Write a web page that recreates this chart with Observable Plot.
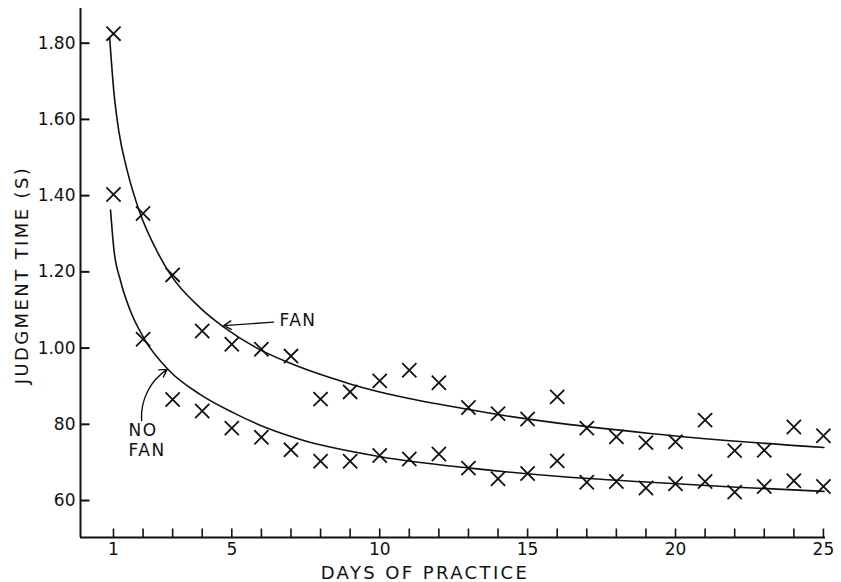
<!DOCTYPE html>
<html>
<head>
<meta charset="utf-8">
<script src="https://cdn.jsdelivr.net/npm/d3@7"></script>
<script src="https://cdn.jsdelivr.net/npm/@observablehq/plot@0.6"></script>
<style>
  body { margin: 0; background: #fff; }
  svg text { font-family: "DejaVu Sans", sans-serif; }
</style>
</head>
<body>
<div id="chart"></div>
<script>
// ---- data ----
const days = [1, 2, 3, 4, 5, 6, 7, 8, 9, 10, 11, 12, 13, 14, 15, 16, 17, 18, 19, 20, 21, 22, 23, 24, 25];
const fanTimes = [1.825, 1.353, 1.192, 1.045, 1.010, 0.997, 0.979, 0.866, 0.885, 0.914, 0.942, 0.909, 0.844, 0.828, 0.814, 0.872, 0.790, 0.767, 0.752, 0.754, 0.811, 0.731, 0.732, 0.793, 0.770];
const noFanTimes = [1.403, 1.023, 0.865, 0.835, 0.790, 0.766, 0.733, 0.703, 0.703, 0.718, 0.709, 0.722, 0.685, 0.657, 0.671, 0.704, 0.648, 0.650, 0.633, 0.644, 0.650, 0.622, 0.637, 0.652, 0.637];

// fitted curves as drawn in the reference
const fanCurveDays = [0.87, 1.01, 1.18, 1.46, 1.89, 2.42, 2.95, 3.94, 4.73, 5.85, 6.98, 9.0, 13.06, 19.14, 25.02];
const fanCurveTimes = [1.815, 1.675, 1.569, 1.467, 1.356, 1.262, 1.190, 1.105, 1.055, 1.000, 0.960, 0.906, 0.838, 0.776, 0.739];
const noFanCurveDays = [0.9, 1.01, 1.24, 1.57, 2.02, 2.87, 3.94, 5.06, 6.19, 7.32, 10.02, 13.06, 16.1, 19.14, 22.07, 25.02];
const noFanCurveTimes = [1.362, 1.262, 1.176, 1.098, 1.027, 0.942, 0.878, 0.830, 0.790, 0.760, 0.715, 0.685, 0.663, 0.648, 0.635, 0.624];

// annotations
const labelTexts = ["FAN", "NO", "FAN"];
const labelDays = [6.61, 1.51, 1.51];
const labelTimes = [1.071, 0.784, 0.730];
const arrowFrom = [[6.41, 1.068], [1.95, 0.810]];
const arrowTo = [[4.73, 1.059], [2.815, 0.944]];
const arrowBend = [0, 30];

// axes
const yTicks = [0.6, 0.8, 1.0, 1.2, 1.4, 1.6, 1.8];
const yTickLabels = ["60", "80", "1.00", "1.20", "1.40", "1.60", "1.80"];
const xLabelDays = [1, 5, 10, 15, 20, 25];
const xTitle = "DAYS OF PRACTICE";
const yTitle = "JUDGMENT TIME (S)";

// ---- build tables ----
const points = days.flatMap((d, i) => [
  {day: d, t: fanTimes[i], cond: "FAN"},
  {day: d, t: noFanTimes[i], cond: "NO FAN"}
]);
const curves = [
  ...fanCurveDays.map((d, i) => ({day: d, t: fanCurveTimes[i], cond: "FAN"})),
  ...noFanCurveDays.map((d, i) => ({day: d, t: noFanCurveTimes[i], cond: "NO FAN"}))
];
const labels = labelTexts.map((s, i) => ({s, day: labelDays[i], t: labelTimes[i]}));
const arrows = arrowFrom.map((f, i) => ({x1: f[0], y1: f[1], x2: arrowTo[i][0], y2: arrowTo[i][1], bend: arrowBend[i]}));

const W = 841, H = 582, mL = 80, mR = 16, mT = 8, mB = 45;
const frameW = W - mL - mR, frameH = H - mT - mB;
const tickLen = 9;
const xDomain = [-0.115, 25.07];
const yDomain = [0.503, 1.891];
// inward ticks: start/end points in data units of each scale
const yTickRows = yTicks.map((t) => ({t, x1: xDomain[0], x2: xDomain[0] + tickLen * (xDomain[1] - xDomain[0]) / frameW}));
const xTickRows = days.map((d) => ({d, y1: yDomain[0], y2: yDomain[0] + tickLen * (yDomain[1] - yDomain[0]) / frameH}));

const chart = Plot.plot({
  width: W,
  height: H,
  marginLeft: mL,
  marginRight: mR,
  marginTop: mT,
  marginBottom: mB,
  x: {domain: xDomain, label: null},
  y: {domain: yDomain, label: null},
  style: {fontFamily: "DejaVu Sans, sans-serif", fontSize: "17px", color: "#111", background: "#fff"},
  marks: [
    Plot.axisY(yTicks, {tickSize: 0, tickPadding: 5, fontSize: 17,
      tickFormat: (d) => yTickLabels[yTicks.indexOf(d)], label: null}),
    Plot.axisX(xLabelDays, {tickSize: 0, tickPadding: 5, fontSize: 17, label: null}),
    Plot.link(yTickRows, {x1: "x1", x2: "x2", y1: "t", y2: "t", stroke: "#111", strokeWidth: 2}),
    Plot.link(xTickRows, {x1: "d", x2: "d", y1: "y1", y2: "y2", stroke: "#111", strokeWidth: 1.6}),
    Plot.ruleX([xDomain[0]], {stroke: "#111", strokeWidth: 2}),
    Plot.ruleY([yDomain[0]], {stroke: "#111", strokeWidth: 2}),
    Plot.line(curves, {x: "day", y: "t", z: "cond", curve: "monotone-x", stroke: "#111", strokeWidth: 1.6}),
    Plot.dot(points, {x: "day", y: "t", symbol: "times", r: 6.5, stroke: "#111", strokeWidth: 1.8}),
    Plot.arrow(arrows.filter(a => a.bend === 0), {x1: "x1", y1: "y1", x2: "x2", y2: "y2", stroke: "#111", strokeWidth: 1.4, headLength: 9}),
    Plot.arrow(arrows.filter(a => a.bend !== 0), {x1: "x1", y1: "y1", x2: "x2", y2: "y2", bend: 30, stroke: "#111", strokeWidth: 1.4, headLength: 9}),
    Plot.text(labels, {x: "day", y: "t", text: "s", textAnchor: "start", fontSize: 17, fill: "#111"}),
    Plot.text([xTitle], {frameAnchor: "bottom", textAnchor: "middle", lineAnchor: "middle", dx: -28, dy: 36, fontSize: 18, fill: "#111"}),
    Plot.text([yTitle], {frameAnchor: "left", textAnchor: "middle", lineAnchor: "middle", dx: -58, dy: 2, rotate: -90, fontSize: 18, fill: "#111"})
  ]
});
document.getElementById("chart").appendChild(chart);
d3.select(chart).selectAll("text").filter(function() {
  const s = this.textContent; return s === xTitle || s === yTitle;
}).attr("letter-spacing", "2.4px");
d3.select(chart).selectAll("text").filter(function() {
  return labelTexts.includes(this.textContent);
}).attr("letter-spacing", "1.5px");
</script>
</body>
</html>
